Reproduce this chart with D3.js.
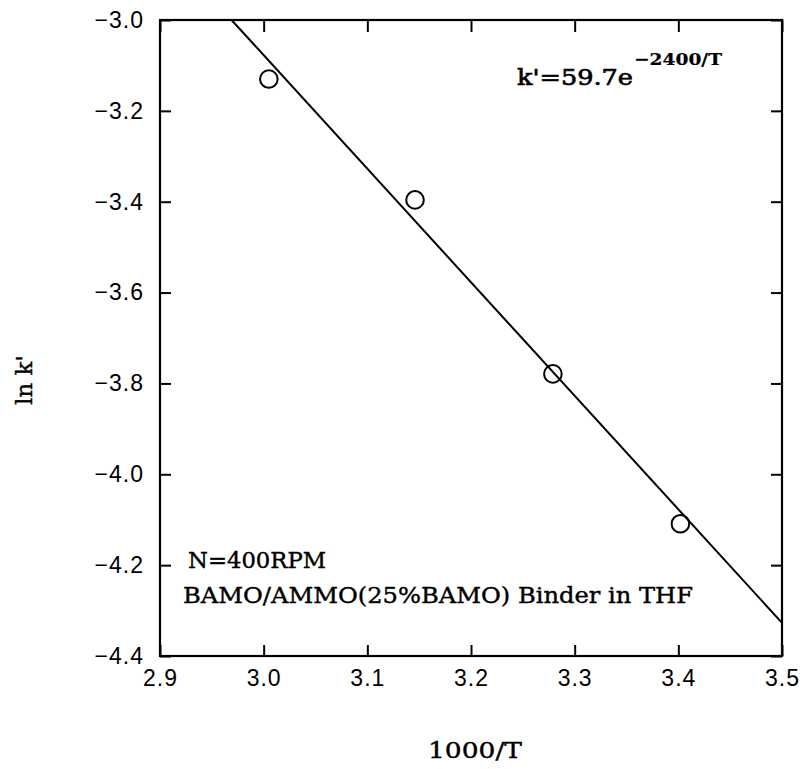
<!DOCTYPE html>
<html>
<head>
<meta charset="utf-8">
<script src="https://cdn.jsdelivr.net/npm/d3@7"></script>
<style>
  html, body { margin: 0; padding: 0; background: #fff; }
  svg { display: block; }
</style>
</head>
<body>
<svg id="chart" width="803" height="769"></svg>
<script>
// Measured rate constants: inverse temperature vs ln k'
const invT = [3.005, 3.146, 3.279, 3.402];
const lnK = [-3.130, -3.396, -3.779, -4.109];

// Arrhenius fit line endpoints (1000/T, ln k')
const fitX = [2.969, 3.5];
const fitY = [-3.0, -4.327];

// Axis ticks
const xTicks = [2.9, 3.0, 3.1, 3.2, 3.3, 3.4, 3.5];
const yTicks = [-3.0, -3.2, -3.4, -3.6, -3.8, -4.0, -4.2, -4.4];

const svg = d3.select("#chart");
const plotL = 160, plotR = 782, plotT = 20, plotB = 656;

const x = d3.scaleLinear().domain([2.9, 3.5]).range([plotL, plotR]);
const y = d3.scaleLinear().domain([-4.4, -3.0]).range([plotB, plotT]);

const fmt = d => d3.format(".1f")(d).replace("-", "\u2212");
const tickFont = "'Liberation Sans', Arial, sans-serif";
const serif = "'DejaVu Serif', 'Liberation Serif', serif";

function styleAxis(g) {
  g.select(".domain").remove();
  g.selectAll(".tick line").attr("stroke", "#000").attr("stroke-width", 2);
  g.selectAll(".tick text")
    .attr("fill", "#000")
    .style("font-family", tickFont)
    .style("font-size", "23px")
    .style("letter-spacing", "1px");
}

// Bottom axis with labels, ticks pointing inward
svg.append("g")
  .attr("transform", `translate(0,${plotB})`)
  .call(d3.axisBottom(x).tickValues(xTicks).tickFormat(fmt).tickSize(-11).tickPadding(14))
  .call(styleAxis);

// Left axis with labels
svg.append("g")
  .attr("transform", `translate(${plotL},0)`)
  .call(d3.axisLeft(y).tickValues(yTicks).tickFormat(fmt).tickSize(-11).tickPadding(16))
  .call(styleAxis);

// Top and right axes: ticks only
svg.append("g")
  .attr("transform", `translate(0,${plotT})`)
  .call(d3.axisTop(x).tickValues(xTicks).tickFormat("").tickSize(-12))
  .call(styleAxis);
svg.append("g")
  .attr("transform", `translate(${plotR},0)`)
  .call(d3.axisRight(y).tickValues(yTicks).tickFormat("").tickSize(-11))
  .call(styleAxis);

// Plot frame
svg.append("rect")
  .attr("x", plotL).attr("y", plotT)
  .attr("width", plotR - plotL).attr("height", plotB - plotT)
  .attr("fill", "none").attr("stroke", "#000").attr("stroke-width", 2.2);

// Fit line
const line = d3.line().x(d => x(d[0])).y(d => y(d[1]));
svg.append("path")
  .datum(d3.zip(fitX, fitY))
  .attr("d", line)
  .attr("fill", "none")
  .attr("stroke", "#000")
  .attr("stroke-width", 2);

// Data markers
svg.append("g").selectAll("circle")
  .data(d3.zip(invT, lnK))
  .join("circle")
  .attr("cx", d => x(d[0]))
  .attr("cy", d => y(d[1]))
  .attr("r", 8.8)
  .attr("fill", "none")
  .attr("stroke", "#000")
  .attr("stroke-width", 2);

// Serif label helper with a light outline for heavier strokes
function label(xp, yp, txt, size, len) {
  const t = svg.append("text")
    .attr("x", xp).attr("y", yp)
    .style("font-family", serif)
    .style("font-size", size + "px")
    .attr("fill", "#000")
    .attr("stroke", "#000")
    .attr("stroke-width", 0.4)
    .text(txt);
  if (len) t.attr("textLength", len).attr("lengthAdjust", "spacingAndGlyphs");
  return t;
}

// Axis titles
label(428, 758, "1000/T", 23, 94);
svg.append("text")
  .attr("transform", "translate(32,380) rotate(-90)")
  .attr("text-anchor", "middle")
  .style("font-family", serif)
  .style("font-size", "23px")
  .attr("stroke", "#000").attr("stroke-width", 0.4)
  .text("ln k'");

// Rate expression
label(517, 85, "k'=59.7e", 23, 116).attr("stroke-width", 0.7);
label(634, 65, "\u22122400/T", 17, 88).style("font-weight", "bold").attr("stroke-width", 0.2);

// Conditions
label(188, 568, "N=400RPM", 22, 138);
label(183, 603, "BAMO/AMMO(25%BAMO) Binder in THF", 22, 510);
</script>
</body>
</html>
